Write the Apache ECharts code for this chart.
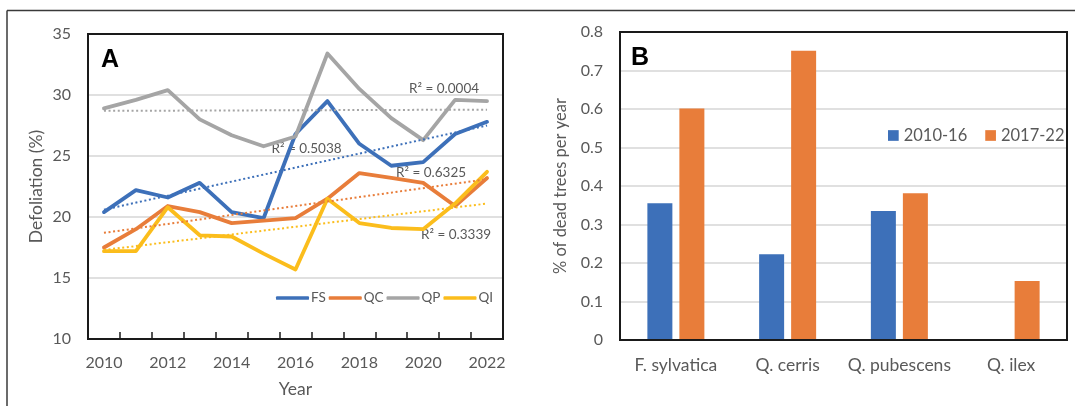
<!DOCTYPE html>
<html>
<head>
<meta charset="utf-8">
<script src="https://cdn.jsdelivr.net/npm/echarts@6/dist/echarts.min.js"></script>
<style>
html,body{margin:0;padding:0;background:#fff;}
#chart{width:1075px;height:406px;}
</style>
</head>
<body>
<div id="chart"></div>
<script>
// ---- Panel A data ----
const years = ['2010','2011','2012','2013','2014','2015','2016','2017','2018','2019','2020','2021','2022'];
const FS = [20.4, 22.2, 21.6, 22.8, 20.4, 19.9, 26.8, 29.5, 26.0, 24.2, 24.5, 26.8, 27.8];
const QC = [17.5, 19.0, 20.9, 20.4, 19.5, 19.7, 19.9, 21.5, 23.6, 23.2, 22.8, 20.9, 23.2];
const QP = [28.9, 29.6, 30.4, 28.0, 26.7, 25.8, 26.6, 33.4, 30.5, 28.1, 26.3, 29.6, 29.5];
const QI = [17.2, 17.2, 20.8, 18.5, 18.4, 17.0, 15.7, 21.5, 19.5, 19.1, 19.0, 21.1, 23.7];
// trend line endpoints (2010, 2022)
const FS_trend = [20.6, 27.5];
const QC_trend = [18.7, 23.1];
const QP_trend = [28.7, 28.8];
const QI_trend = [17.3, 21.1];
const r2Labels = ['R\u00b2 = 0.0004', 'R\u00b2 = 0.5038', 'R\u00b2 = 0.6325', 'R\u00b2 = 0.3339'];
// ---- Panel B data ----
const species = ['F. sylvatica', 'Q. cerris', 'Q. pubescens', 'Q. ilex'];
const dead2010_16 = [0.355, 0.223, 0.335, 0];
const dead2017_22 = [0.601, 0.751, 0.381, 0.153];

const txt = '#595959';
const font = 'Lato';
const cBlue = '#3d70b9', cOrange = '#e87d3a', cGrey = '#a5a5a5', cYellow = '#fbbd1c';

function trend(name, vals, color){
  return {
    name: name, type: 'line', xAxisIndex: 0, yAxisIndex: 0, symbol: 'none', silent: true,
    data: [[years[0], vals[0]], [years[years.length-1], vals[1]]],
    lineStyle: {color: color, width: 2, type: [2, 2.6]}, z: 3
  };
}
function main(name, vals, color){
  return {
    name: name, type: 'line', xAxisIndex: 0, yAxisIndex: 0, symbol: 'none',
    data: vals, lineStyle: {color: color, width: 3.8, cap: 'round', join: 'round'}, itemStyle: {color: color}, z: 2
  };
}

const chart = echarts.init(document.getElementById('chart'), null, {renderer: 'canvas'});
const option = {
  backgroundColor: '#fff',
  animation: false,
  textStyle: {fontFamily: font},
  grid: [
    {left: 88, top: 34, width: 415, height: 305, show: true, borderColor: '#1a1a1a', borderWidth: 2, backgroundColor: 'transparent', z: 5},
    {left: 620, top: 32, width: 447, height: 308, show: true, borderColor: '#1a1a1a', borderWidth: 2, backgroundColor: 'transparent', z: 5}
  ],
  xAxis: [
    {type: 'category', gridIndex: 0, data: years, boundaryGap: true,
     axisLine: {show: false},
     axisTick: {show: true, inside: true, length: 7, interval: 0, lineStyle: {color: '#1a1a1a', width: 1.5}},
     axisLabel: {interval: 1, color: txt, fontSize: 16, fontFamily: font, margin: 16},
     name: 'Year', nameLocation: 'middle', nameGap: 41,
     nameTextStyle: {color: txt, fontSize: 17.5, fontFamily: font}},
    {type: 'category', gridIndex: 1, data: species,
     axisLine: {show: false}, axisTick: {show: false},
     axisLabel: {interval: 0, color: txt, fontSize: 17.5, fontFamily: font, margin: 16}}
  ],
  yAxis: [
    {type: 'value', gridIndex: 0, min: 10, max: 35, interval: 5,
     axisLine: {show: false}, axisTick: {show: false},
     axisLabel: {color: txt, fontSize: 16, fontFamily: font, margin: 17},
     splitLine: {lineStyle: {color: '#d6d6d6', width: 1.5}},
     name: 'Defoliation (%)', nameLocation: 'middle', nameGap: 43,
     nameTextStyle: {color: txt, fontSize: 17.5, fontFamily: font}},
    {type: 'value', gridIndex: 1, min: 0, max: 0.8, interval: 0.1,
     axisLine: {show: false}, axisTick: {show: false},
     axisLabel: {color: txt, fontSize: 16, fontFamily: font, margin: 17},
     splitLine: {lineStyle: {color: '#d6d6d6', width: 1.5}},
     name: '% of dead trees per year', nameLocation: 'middle', nameGap: 51,
     nameTextStyle: {color: txt, fontSize: 16.5, fontFamily: font}}
  ],
  legend: [
    {data: ['FS','QC','QP','QI'], left: 271, top: 286, icon: 'roundRect', itemWidth: 33, itemHeight: 3.5, itemGap: 3,
     textStyle: {color: txt, fontSize: 13.5, fontFamily: font, padding: [0,0,0,-3]}},
    {data: ['2010-16','2017-22'], left: 883, top: 122, icon: 'rect', itemWidth: 10.7, itemHeight: 10.7, itemGap: 18,
     textStyle: {color: txt, fontSize: 16.5, fontFamily: font}}
  ],
  series: [
    main('FS', FS, cBlue),
    main('QC', QC, cOrange),
    main('QP', QP, cGrey),
    main('QI', QI, cYellow),
    trend('FS trend', FS_trend, cBlue),
    trend('QC trend', QC_trend, cOrange),
    trend('QP trend', QP_trend, cGrey),
    trend('QI trend', QI_trend, cYellow),
    {name: '2010-16', type: 'bar', xAxisIndex: 1, yAxisIndex: 1, data: dead2010_16, barWidth: 25, barGap: '28%',
     itemStyle: {color: cBlue}},
    {name: '2017-22', type: 'bar', xAxisIndex: 1, yAxisIndex: 1, data: dead2017_22, barWidth: 25, barGap: '28%',
     itemStyle: {color: cOrange}}
  ],
  graphic: [
    {type: 'line', shape: {x1: 7, y1: 10.5, x2: 1075, y2: 10.5}, style: {stroke: '#3a3a3a', lineWidth: 1.5}},
    {type: 'line', shape: {x1: 7, y1: 10.5, x2: 7, y2: 406}, style: {stroke: '#3a3a3a', lineWidth: 1.5}},
    {type: 'text', x: 101, y: 60, style: {text: 'A', font: 'bold 25px "Liberation Sans"', fill: '#000', verticalAlign: 'middle'}},
    {type: 'text', x: 631, y: 58.5, style: {text: 'B', font: 'bold 25px "Liberation Sans"', fill: '#000', verticalAlign: 'middle'}},
    {type: 'text', x: 409, y: 89, style: {text: r2Labels[0], font: '13.5px Lato', fill: txt, verticalAlign: 'middle'}},
    {type: 'text', x: 271.5, y: 148.3, style: {text: r2Labels[1], font: '13.5px Lato', fill: txt, verticalAlign: 'middle'}},
    {type: 'text', x: 396, y: 173, style: {text: r2Labels[2], font: '13.5px Lato', fill: txt, verticalAlign: 'middle'}},
    {type: 'text', x: 421, y: 234.3, style: {text: r2Labels[3], font: '13.5px Lato', fill: txt, verticalAlign: 'middle'}}
  ]
};
chart.setOption(option);
</script>
</body>
</html>
